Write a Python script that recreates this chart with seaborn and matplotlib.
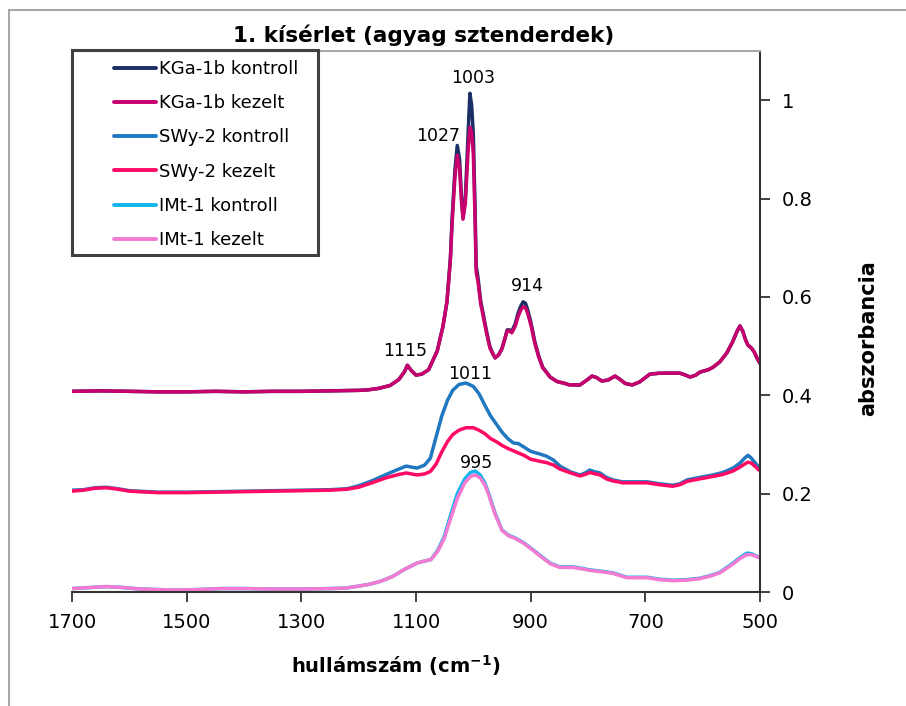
import numpy as np
import pandas as pd
import matplotlib
matplotlib.use("Agg")
import matplotlib.pyplot as plt
from matplotlib.patches import Rectangle
import seaborn as sns

# ---------------- data ----------------
kga_w = [1700, 1650, 1600, 1550, 1500, 1450, 1400, 1350, 1300, 1250, 1200, 1184, 1165, 1145,
         1130, 1120, 1115, 1108, 1100, 1090, 1078, 1063, 1053, 1046, 1040, 1037, 1032, 1028,
         1024, 1021, 1018, 1014, 1009, 1006, 1003, 1000, 997, 995, 992, 987, 983, 977, 971,
         966, 962, 956, 950, 945, 941, 937, 933, 927, 922, 917, 913, 909, 905, 899, 893, 886,
         879, 866, 854, 840, 832, 814, 803, 793, 785, 776, 765, 753, 745, 735, 723, 710, 700,
         692, 674, 656, 640, 630, 622, 612, 605, 590, 582, 570, 558, 548, 540, 535, 530, 525,
         521, 515, 510, 505, 500]
kga_kontroll = [0.408, 0.409, 0.408, 0.407, 0.407, 0.408, 0.407, 0.408, 0.408, 0.409, 0.410, 0.411,
                0.414, 0.420, 0.432, 0.448, 0.461, 0.450, 0.441, 0.443, 0.452, 0.490, 0.540, 0.590,
                0.680, 0.760, 0.860, 0.908, 0.880, 0.810, 0.762, 0.800, 0.935, 1.014, 0.990, 0.930,
                0.780, 0.662, 0.640, 0.590, 0.567, 0.530, 0.498, 0.485, 0.476, 0.482, 0.495, 0.515,
                0.533, 0.533, 0.530, 0.545, 0.567, 0.582, 0.590, 0.587, 0.573, 0.545, 0.510, 0.480,
                0.457, 0.437, 0.428, 0.424, 0.421, 0.421, 0.430, 0.439, 0.436, 0.429, 0.431, 0.439,
                0.433, 0.424, 0.421, 0.427, 0.436, 0.443, 0.445, 0.445, 0.445, 0.441, 0.437, 0.441,
                0.447, 0.452, 0.457, 0.468, 0.486, 0.508, 0.530, 0.541, 0.530, 0.512, 0.502, 0.496,
                0.488, 0.475, 0.465]
kga_kezelt = [0.408, 0.409, 0.408, 0.407, 0.407, 0.408, 0.407, 0.408, 0.408, 0.409, 0.410, 0.411,
              0.414, 0.420, 0.432, 0.448, 0.461, 0.450, 0.441, 0.443, 0.452, 0.490, 0.540, 0.590,
              0.675, 0.750, 0.845, 0.888, 0.862, 0.800, 0.758, 0.790, 0.900, 0.945, 0.935, 0.890,
              0.760, 0.650, 0.632, 0.585, 0.562, 0.527, 0.496, 0.484, 0.476, 0.482, 0.495, 0.515,
              0.531, 0.531, 0.527, 0.540, 0.560, 0.574, 0.580, 0.578, 0.566, 0.540, 0.507, 0.478,
              0.456, 0.437, 0.428, 0.424, 0.421, 0.421, 0.430, 0.439, 0.436, 0.429, 0.431, 0.439,
              0.433, 0.424, 0.421, 0.427, 0.436, 0.443, 0.445, 0.445, 0.445, 0.441, 0.437, 0.441,
              0.447, 0.452, 0.457, 0.468, 0.486, 0.508, 0.530, 0.541, 0.530, 0.512, 0.502, 0.496,
              0.488, 0.475, 0.465]

swy_w = [1700, 1680, 1660, 1640, 1620, 1600, 1550, 1500, 1450, 1400, 1350, 1300, 1250, 1220,
         1200, 1177, 1150, 1130, 1117, 1108, 1098, 1085, 1075, 1065, 1055, 1045, 1036, 1025,
         1013, 1000, 990, 980, 970, 959, 950, 940, 930, 922, 912, 900, 885, 872, 860, 849, 830,
         814, 805, 797, 790, 779, 768, 757, 740, 720, 697, 675, 652, 640, 627, 605, 582, 565,
         547, 535, 527, 521, 515, 508, 502]
swy_kontroll = [0.207, 0.208, 0.212, 0.213, 0.210, 0.206, 0.203, 0.203, 0.204, 0.205, 0.206, 0.207,
                0.208, 0.210, 0.216, 0.226, 0.240, 0.250, 0.256, 0.254, 0.252, 0.258, 0.272, 0.315,
                0.358, 0.390, 0.410, 0.422, 0.425, 0.418, 0.403, 0.380, 0.358, 0.340, 0.325, 0.312,
                0.303, 0.302, 0.295, 0.286, 0.281, 0.276, 0.268, 0.256, 0.244, 0.238, 0.242, 0.248,
                0.245, 0.242, 0.233, 0.228, 0.224, 0.224, 0.224, 0.220, 0.217, 0.220, 0.228, 0.233,
                0.238, 0.243, 0.252, 0.262, 0.272, 0.278, 0.272, 0.262, 0.254]
swy_kezelt = [0.205, 0.207, 0.211, 0.212, 0.209, 0.205, 0.202, 0.202, 0.203, 0.204, 0.205, 0.206,
              0.207, 0.209, 0.213, 0.222, 0.233, 0.239, 0.242, 0.240, 0.238, 0.240, 0.245, 0.260,
              0.285, 0.306, 0.320, 0.329, 0.334, 0.334, 0.329, 0.322, 0.312, 0.305, 0.298, 0.292,
              0.287, 0.283, 0.278, 0.270, 0.266, 0.263, 0.258, 0.250, 0.242, 0.236, 0.239, 0.243,
              0.241, 0.238, 0.230, 0.226, 0.222, 0.222, 0.222, 0.218, 0.215, 0.218, 0.225, 0.230,
              0.235, 0.239, 0.246, 0.254, 0.260, 0.264, 0.262, 0.255, 0.248]

imt_w = [1700, 1670, 1640, 1610, 1580, 1550, 1520, 1480, 1440, 1400, 1350, 1300, 1250, 1222,
         1200, 1180, 1161, 1140, 1120, 1098, 1085, 1074, 1062, 1051, 1040, 1028, 1015, 1005,
         997, 988, 980, 973, 962, 950, 938, 927, 912, 895, 880, 865, 849, 826, 810, 797, 775,
         757, 732, 697, 675, 652, 630, 605, 585, 570, 547, 535, 523, 515, 508, 502]
imt_kontroll = [0.007, 0.009, 0.011, 0.009, 0.006, 0.005, 0.004, 0.005, 0.007, 0.007, 0.006, 0.006,
                0.007, 0.008, 0.012, 0.016, 0.022, 0.032, 0.046, 0.059, 0.063, 0.066, 0.085, 0.112,
                0.155, 0.200, 0.230, 0.243, 0.246, 0.238, 0.222, 0.200, 0.160, 0.126, 0.115, 0.110,
                0.100, 0.085, 0.071, 0.058, 0.051, 0.051, 0.048, 0.045, 0.042, 0.039, 0.030, 0.030,
                0.026, 0.024, 0.025, 0.028, 0.034, 0.040, 0.059, 0.070, 0.079, 0.078, 0.074, 0.071]
imt_kezelt = [0.007, 0.009, 0.011, 0.009, 0.006, 0.005, 0.004, 0.005, 0.007, 0.007, 0.006, 0.006,
              0.007, 0.008, 0.012, 0.016, 0.022, 0.032, 0.046, 0.059, 0.063, 0.066, 0.083, 0.108,
              0.148, 0.190, 0.222, 0.235, 0.238, 0.232, 0.218, 0.197, 0.158, 0.125, 0.114, 0.109,
              0.099, 0.084, 0.070, 0.057, 0.050, 0.050, 0.047, 0.044, 0.041, 0.038, 0.029, 0.029,
              0.025, 0.023, 0.024, 0.027, 0.033, 0.039, 0.057, 0.068, 0.076, 0.076, 0.073, 0.070]

series_names = ["KGa-1b kontroll", "KGa-1b kezelt", "SWy-2 kontroll", "SWy-2 kezelt",
                "IMt-1 kontroll", "IMt-1 kezelt"]
series_colors = ["#1B2F66", "#C8006E", "#1F78C0", "#FF0A64", "#10B4EE", "#F57AD2"]

x_ticks = [1700, 1500, 1300, 1100, 900, 700, 500]
y_ticks = [0, 0.2, 0.4, 0.6, 0.8, 1.0]
y_tick_labels = ["0", "0.2", "0.4", "0.6", "0.8", "1"]

# peak labels: text, wavenumber, series used for height, offset (px)
peak_labels = ["1003", "1027", "914", "1115", "1011", "995"]
peak_pos = [1005, 1028, 913, 1115, 1013, 997]
peak_series = ["KGa-1b kontroll", "KGa-1b kontroll", "KGa-1b kontroll", "KGa-1b kontroll",
               "SWy-2 kontroll", "IMt-1 kontroll"]
peak_offsets = [(3, 10), (-19, 0), (4, 7), (-2, 5), (4, 0), (1, -1)]

title_text = "1. kísérlet (agyag sztenderdek)"
x_label = "hullámszám (cm$^{\\mathbf{-1}}$)"
y_label = "abszorbancia"

# ---------------- build table ----------------
groups = [(series_names[0], kga_w, kga_kontroll), (series_names[1], kga_w, kga_kezelt),
          (series_names[2], swy_w, swy_kontroll), (series_names[3], swy_w, swy_kezelt),
          (series_names[4], imt_w, imt_kontroll), (series_names[5], imt_w, imt_kezelt)]
rows = []
for name, w, vals in groups:
    for a, b in zip(w, vals):
        rows.append({"w": a, "A": b, "sorozat": name})
df = pd.DataFrame(rows)
lookup = {n: (np.array(w[::-1], float), np.array(v[::-1], float)) for n, w, v in groups}

# ---------------- figure ----------------
sns.set_theme(style="white")
plt.rcParams["font.family"] = ["DejaVu Sans"]
plt.rcParams["text.color"] = "black"
plt.rcParams["axes.labelcolor"] = "black"
plt.rcParams["xtick.color"] = "black"
plt.rcParams["ytick.color"] = "black"

W, H = 906, 706
fig = plt.figure(figsize=(W / 100, H / 100), dpi=100)
fig.patch.set_facecolor("white")
ax = fig.add_axes([72 / W, 1 - 592 / H, 688 / W, (592 - 51) / H])

sns.lineplot(data=df, x="w", y="A", hue="sorozat", hue_order=series_names,
             palette=dict(zip(series_names, series_colors)), estimator=None,
             linewidth=2.5, ax=ax)

ax.set_xlim(1700, 500)
ax.set_ylim(0, 1.1)
ax.set_xticks(x_ticks)
ax.set_xticklabels([str(t) for t in x_ticks])
ax.set_yticks(y_ticks)
ax.set_yticklabels(y_tick_labels)
ax.yaxis.tick_right()
ax.yaxis.set_label_position("right")
ax.tick_params(axis="x", direction="out", length=7, width=1.3, color="#333333",
               labelsize=14, pad=8, bottom=True, labelcolor="black")
ax.tick_params(axis="y", direction="out", length=7, width=1.3, color="#333333",
               labelsize=14, pad=9, right=True, left=False, labelcolor="black")

ax.spines["left"].set_visible(False)
ax.spines["top"].set_color("#A8A8A8")
ax.spines["top"].set_linewidth(1.5)
ax.spines["right"].set_color("#333333")
ax.spines["right"].set_linewidth(1.5)
ax.spines["bottom"].set_color("#333333")
ax.spines["bottom"].set_linewidth(1.5)

ax.set_xlabel(x_label, fontsize=14, fontweight="bold", color="black")
ax.set_ylabel(y_label, fontsize=15, fontweight="bold", color="black")
ax.yaxis.set_label_coords((858 - 72) / 688, 0.47)
ax.xaxis.set_label_coords(0.47, -0.113)

fig.text(424 / W, 1 - 35 / H, title_text, ha="center", va="center",
         fontsize=15.5, fontweight="bold", color="black")

# peak annotations
for lab, pos, ser, off in zip(peak_labels, peak_pos, peak_series, peak_offsets):
    xs, ys = lookup[ser]
    yv = float(np.interp(pos, xs, ys))
    ax.annotate(lab, xy=(pos, yv), xytext=(off[0] * 0.72, off[1] * 0.72),
                textcoords="offset points", ha="center", va="bottom", fontsize=12.5,
                color="black")

# legend
handles, labels = ax.get_legend_handles_labels()
ax.legend(handles, labels, loc="upper left", bbox_to_anchor=(114 / W, 1 - 60 / H),
          bbox_transform=fig.transFigure, frameon=False, fontsize=13,
          handlelength=2.3, handletextpad=0.2, labelspacing=0.9, borderpad=0,
          borderaxespad=0, labelcolor="black")
for ln in ax.get_legend().get_lines():
    ln.set_linewidth(2.8)

fig.add_artist(Rectangle((72 / W, 1 - 255 / H), (318 - 72) / W, (255 - 50) / H,
                         transform=fig.transFigure, fill=False, edgecolor="#404040",
                         linewidth=2.2))
fig.add_artist(Rectangle((9 / W, -0.2), 1.2, 1.2 - 10 / H,
                         transform=fig.transFigure, fill=False, edgecolor="#A8A8A8",
                         linewidth=1.5))

fig.savefig("out.png", dpi=100, facecolor="white")
